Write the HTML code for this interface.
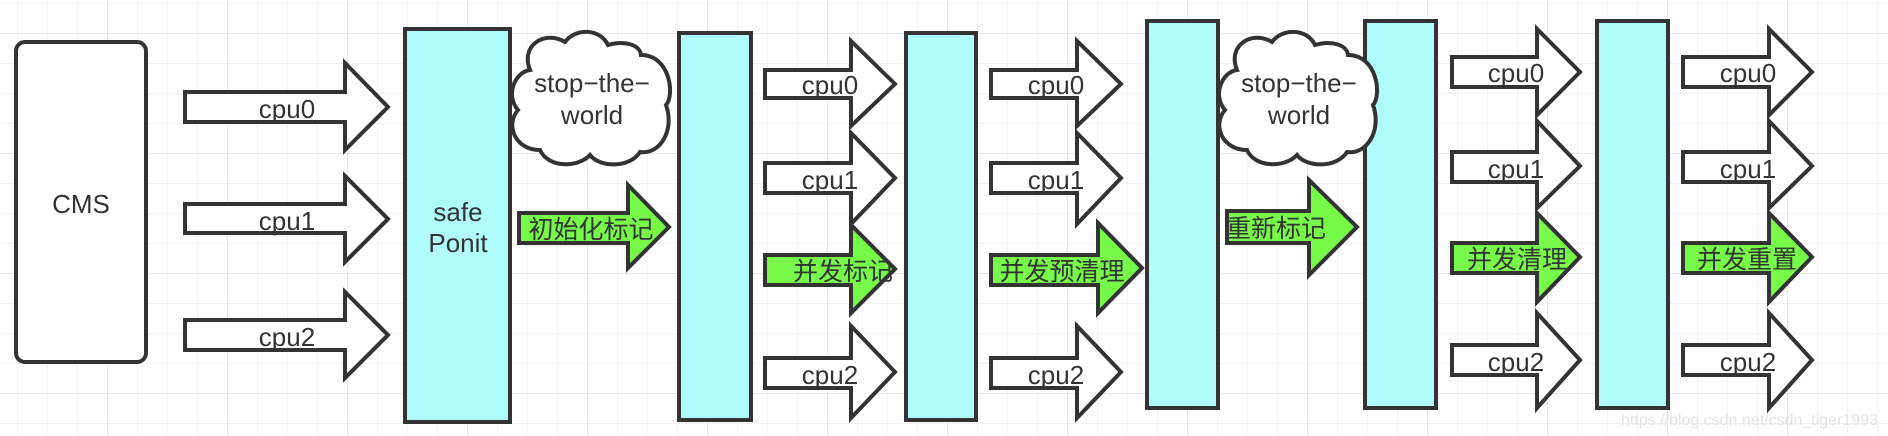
<!DOCTYPE html>
<html><head><meta charset="utf-8"><style>
html,body{margin:0;padding:0;background:#fff;}
svg{display:block;}
text{font-family:"Liberation Sans","Noto Sans CJK SC",sans-serif;fill:#333;}
</style></head><body>
<svg width="1888" height="436" viewBox="0 0 1888 436" xmlns="http://www.w3.org/2000/svg">
<defs>
<pattern id="g" x="17" y="3" width="30" height="30" patternUnits="userSpaceOnUse">
<path d="M0 0H30M0 0V30" stroke="#eeeeee" stroke-width="1.5" fill="none"/>
</pattern>
<pattern id="G" x="107" y="33" width="120" height="120" patternUnits="userSpaceOnUse">
<path d="M0 0H120M0 0V120" stroke="#e6e6e6" stroke-width="2" fill="none"/>
</pattern>
</defs>
<rect width="1888" height="436" fill="url(#g)"/>
<rect width="1888" height="436" fill="url(#G)"/>

<g stroke="#333" stroke-width="4" stroke-linejoin="miter">
<rect x="16" y="42" width="130" height="320" rx="9" fill="#fff"/>
<rect x="405" y="29" width="105" height="393" fill="#b0fcfc"/>
<rect x="679" y="33" width="72" height="387" fill="#b0fcfc"/>
<rect x="906" y="33" width="70" height="387" fill="#b0fcfc"/>
<rect x="1147" y="21" width="71" height="387" fill="#b0fcfc"/>
<rect x="1365" y="21" width="71" height="387" fill="#b0fcfc"/>
<rect x="1597" y="21" width="71" height="387" fill="#b0fcfc"/>
</g>

<g stroke="#333" stroke-width="4" fill="#fff" stroke-linejoin="miter">
<path d="M185 92H345V63L388 107L345 150V122H185Z"/>
<path d="M185 204H345V176L388 219L345 262V233H185Z"/>
<path d="M185 320H345V292L388 335L345 378V350H185Z"/>
<path d="M765 70H851V41L895 84L851 126V98H765Z"/>
<path d="M765 163H851V133L895 178L851 224V193H765Z"/>
<path d="M765 358H851V326L895 372L851 418V388H765Z"/>
<path d="M991 70H1077V41L1121 84L1077 126V98H991Z"/>
<path d="M991 163H1077V133L1121 178L1077 224V193H991Z"/>
<path d="M991 358H1077V326L1121 372L1077 418V388H991Z"/>
<path d="M1452 57H1537V29L1580 72L1537 115V87H1452Z"/>
<path d="M1452 152H1537V121L1580 166L1537 208V182H1452Z"/>
<path d="M1452 345H1537V313L1580 360L1537 408V375H1452Z"/>
<path d="M1683 57H1769V29L1812 72L1769 115V87H1683Z"/>
<path d="M1683 152H1769V121L1812 166L1769 208V182H1683Z"/>
<path d="M1683 345H1769V313L1812 360L1769 408V375H1683Z"/>
</g>
<g stroke="#333" stroke-width="4" fill="#77f94a" stroke-linejoin="miter">
<path d="M519 213H628V185L669 227L628 268V243H519Z"/>
<path d="M765 255H851V225L895 269L851 313V285H765Z"/>
<path d="M991 255H1098V223L1142 268L1098 313V285H991Z"/>
<path d="M1227 211H1309V180L1357 227L1309 275V243H1227Z"/>
<path d="M1452 243H1537V213L1580 257L1537 302V273H1452Z"/>
<path d="M1683 243H1769V213L1812 257L1769 302V273H1683Z"/>
</g>

<g stroke="#333" stroke-width="4" fill="#fff">
<path d="M530 70 C520 45 545 30 565 42 C575 28 600 28 608 45 C625 40 640 45 641 55 C670 55 675 95 666 105 C675 130 660 155 640 152 C630 168 600 168 590 155 C578 168 548 168 540 150 C515 150 505 125 518 110 C505 95 515 72 530 70Z"/>
<path d="M1237 70 C1227 45 1252 30 1272 42 C1282 28 1307 28 1315 45 C1332 40 1347 45 1348 55 C1377 55 1382 95 1373 105 C1382 130 1367 155 1347 152 C1337 168 1307 168 1297 155 C1285 168 1255 168 1247 150 C1222 150 1212 125 1225 110 C1212 95 1222 72 1237 70Z"/>
</g>

<g font-size="26" text-anchor="middle">
<text x="81" y="213">CMS</text>
<text x="458" y="221">safe</text>
<text x="458" y="252">Ponit</text>
<text x="592" y="92">stop−the−</text>
<text x="592" y="124">world</text>
<text x="1299" y="92">stop−the−</text>
<text x="1299" y="124">world</text>

<text x="287" y="118">cpu0</text>
<text x="287" y="230">cpu1</text>
<text x="287" y="346">cpu2</text>
<text x="830" y="94">cpu0</text>
<text x="830" y="189">cpu1</text>
<text x="830" y="384">cpu2</text>
<text x="1056" y="94">cpu0</text>
<text x="1056" y="189">cpu1</text>
<text x="1056" y="384">cpu2</text>
<text x="1516" y="82">cpu0</text>
<text x="1516" y="178">cpu1</text>
<text x="1516" y="371">cpu2</text>
<text x="1748" y="82">cpu0</text>
<text x="1748" y="178">cpu1</text>
<text x="1748" y="371">cpu2</text>
</g>
<g font-size="25" text-anchor="middle">
<text x="591" y="238">初始化标记</text>
<text x="843" y="280">并发标记</text>
<text x="1062" y="280">并发预清理</text>
<text x="1276" y="237">重新标记</text>
<text x="1517" y="268">并发清理</text>
<text x="1747" y="268">并发重置</text>
</g>
<text x="1878" y="425" font-size="16" text-anchor="end" style="fill:#e4e4e4">https://blog.csdn.net/csdn_tiger1993</text>
</svg>
</body></html>
